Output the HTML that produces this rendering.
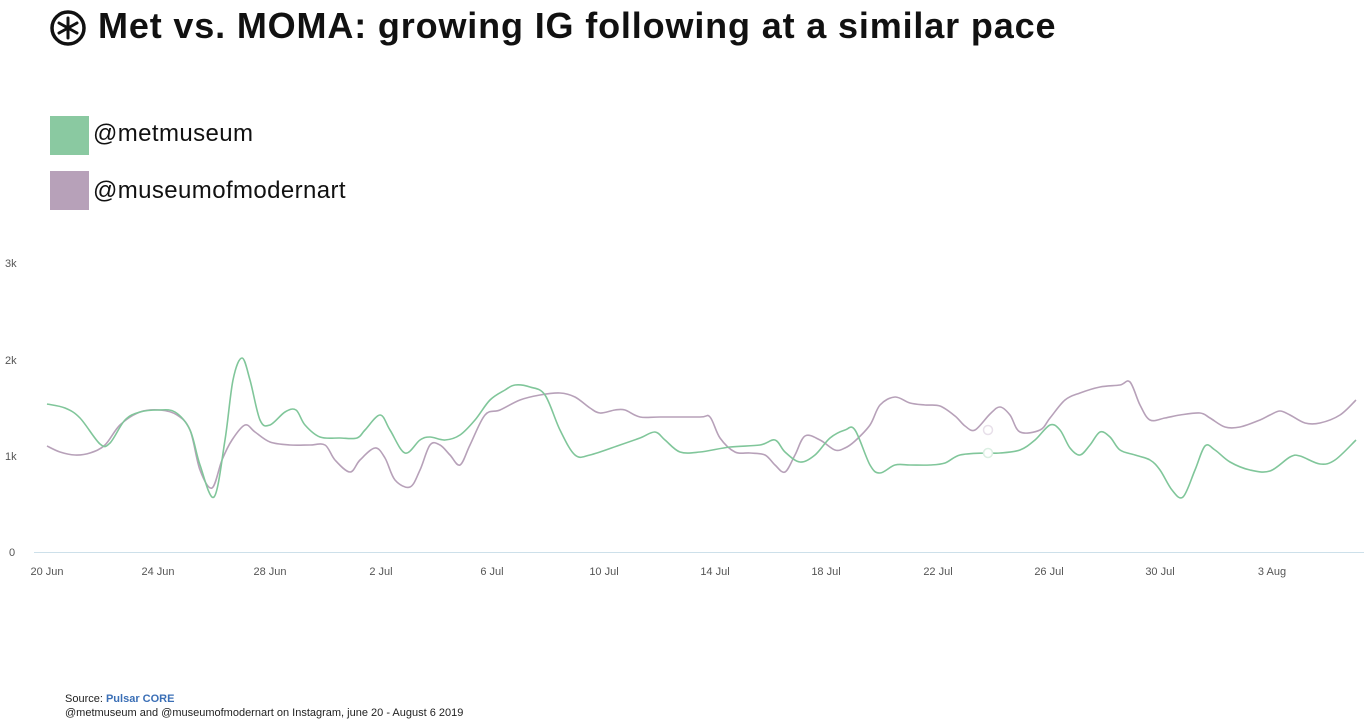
<!DOCTYPE html>
<html><head><meta charset="utf-8"><style>
body{margin:0;width:1366px;height:715px;background:#fff;overflow:hidden;font-family:"Liberation Sans",sans-serif;position:relative}
.t{position:absolute;left:98px;top:5px;font-size:36px;font-weight:bold;color:#111;letter-spacing:0.85px;white-space:nowrap}
.lg{position:absolute;left:50px;width:39px;height:39px}
.lt{position:absolute;left:93px;font-size:24px;color:#111;letter-spacing:0.4px}
.src{position:absolute;left:65px;top:692px;font-size:11px;color:#222;line-height:14px}
</style></head><body>
<svg width="40" height="40" style="position:absolute;left:48px;top:8px" viewBox="0 0 40 40">
<circle cx="20" cy="20" r="16" fill="none" stroke="#111" stroke-width="3.5"/>
<g stroke="#111" stroke-width="3" stroke-linecap="round"><line x1="20" y1="10" x2="20" y2="30"/><line x1="11" y1="15" x2="29" y2="25"/><line x1="11" y1="25" x2="29" y2="15"/></g></svg>
<div class="t">Met vs. MOMA: growing IG following at a similar pace</div>
<div class="lg" style="top:116px;background:#8ac9a1"></div><div class="lt" style="top:120px">@metmuseum</div>
<div class="lg" style="top:171px;background:#b7a1b9"></div><div class="lt" style="top:177px">@museumofmodernart</div>
<svg id="c" width="1366" height="715" style="position:absolute;left:0;top:0" font-family="Liberation Sans, sans-serif" font-size="11" fill="#555">
<text x="5" y="267">3k</text><text x="5" y="364">2k</text><text x="5" y="460">1k</text><text x="9" y="556">0</text>
<line x1="34" y1="552.5" x2="1364" y2="552.5" stroke="#cde0ea" stroke-width="1"/>
<g text-anchor="middle">
<text x="47" y="575">20 Jun</text><text x="158" y="575">24 Jun</text><text x="270" y="575">28 Jun</text><text x="381" y="575">2 Jul</text><text x="492" y="575">6 Jul</text><text x="604" y="575">10 Jul</text><text x="715" y="575">14 Jul</text><text x="826" y="575">18 Jul</text><text x="938" y="575">22 Jul</text><text x="1049" y="575">26 Jul</text><text x="1160" y="575">30 Jul</text><text x="1272" y="575">3 Aug</text></g>
<path id="pm" fill="none" stroke="#b7a1b9" stroke-width="1.6"/>
<path id="gm" fill="none" stroke="#80c69a" stroke-width="1.6"/>
<circle cx="988" cy="430" r="4.5" fill="#fff" stroke="#e8e0ea" stroke-width="1.5"/>
<circle cx="988" cy="453" r="4.5" fill="#fff" stroke="#dcefe3" stroke-width="1.5"/>
</svg>
<div class="src">Source: <b style="color:#3b6fb6">Pulsar CORE</b><br>@metmuseum and @museumofmodernart on Instagram, june 20 - August 6 2019</div>
<script>
var G=[[47,404],[65,408],[80,418],[100,444],[110,443],[125,420],[140,412],[158,410],[175,412],[190,430],[200,465],[214,497],[225,440],[233,380],[242,358],[250,380],[260,420],[270,425],[285,412],[296,410],[305,425],[320,437],[340,438],[357,438],[365,430],[380,415],[390,430],[405,453],[420,440],[430,437],[445,440],[460,435],[475,420],[490,400],[505,390],[515,385],[530,387],[545,395],[560,430],[575,455],[590,455],[620,445],[640,438],[655,432],[665,440],[680,452],[700,452],[730,447],[760,445],[775,440],[785,452],[800,462],[815,455],[830,438],[845,430],[855,430],[870,465],[880,473],[895,465],[910,465],[930,465],[945,463],[960,455],[985,453],[1000,453],[1020,450],[1035,440],[1050,425],[1060,430],[1070,448],[1080,455],[1090,445],[1100,432],[1110,437],[1120,450],[1135,455],[1150,460],[1160,470],[1172,490],[1183,497],[1195,470],[1205,446],[1215,450],[1230,462],[1250,470],[1270,471],[1290,457],[1300,456],[1320,464],[1335,460],[1356,440]];
var P=[[47,446],[60,452],[75,455],[90,453],[105,445],[120,425],[140,412],[160,410],[177,415],[190,430],[200,470],[212,488],[222,460],[232,440],[245,425],[255,432],[270,442],[290,445],[310,445],[325,445],[335,460],[350,472],[360,460],[375,448],[385,458],[395,480],[410,487],[420,470],[430,445],[440,445],[450,455],[460,465],[470,445],[485,415],[500,410],[520,400],[540,395],[560,393],[575,397],[590,408],[600,413],[615,410],[625,410],[640,417],[660,417],[700,417],[710,417],[720,438],[735,452],[750,453],[765,455],[775,465],[785,472],[795,455],[805,436],[820,440],[835,450],[845,448],[855,441],[870,425],[880,405],[895,397],[910,403],[925,405],[940,406],[955,416],[965,426],[975,430],[990,414],[1000,407],[1010,415],[1020,432],[1040,430],[1050,418],[1065,400],[1080,393],[1100,387],[1120,385],[1130,382],[1140,405],[1150,420],[1165,418],[1180,415],[1200,413],[1210,418],[1225,427],[1240,427],[1260,420],[1270,415],[1280,411],[1290,415],[1305,423],[1320,423],[1340,415],[1356,400]];
function cr(a){var d="M"+a[0][0]+","+a[0][1];for(var i=0;i<a.length-1;i++){var p0=a[i-1]||a[i],p1=a[i],p2=a[i+1],p3=a[i+2]||p2;d+="C"+(p1[0]+(p2[0]-p0[0])/6)+","+(p1[1]+(p2[1]-p0[1])/6)+" "+(p2[0]-(p3[0]-p1[0])/6)+","+(p2[1]-(p3[1]-p1[1])/6)+" "+p2[0]+","+p2[1];}return d;}
document.getElementById('gm').setAttribute('d',cr(G));document.getElementById('pm').setAttribute('d',cr(P));
</script>
</body></html>
